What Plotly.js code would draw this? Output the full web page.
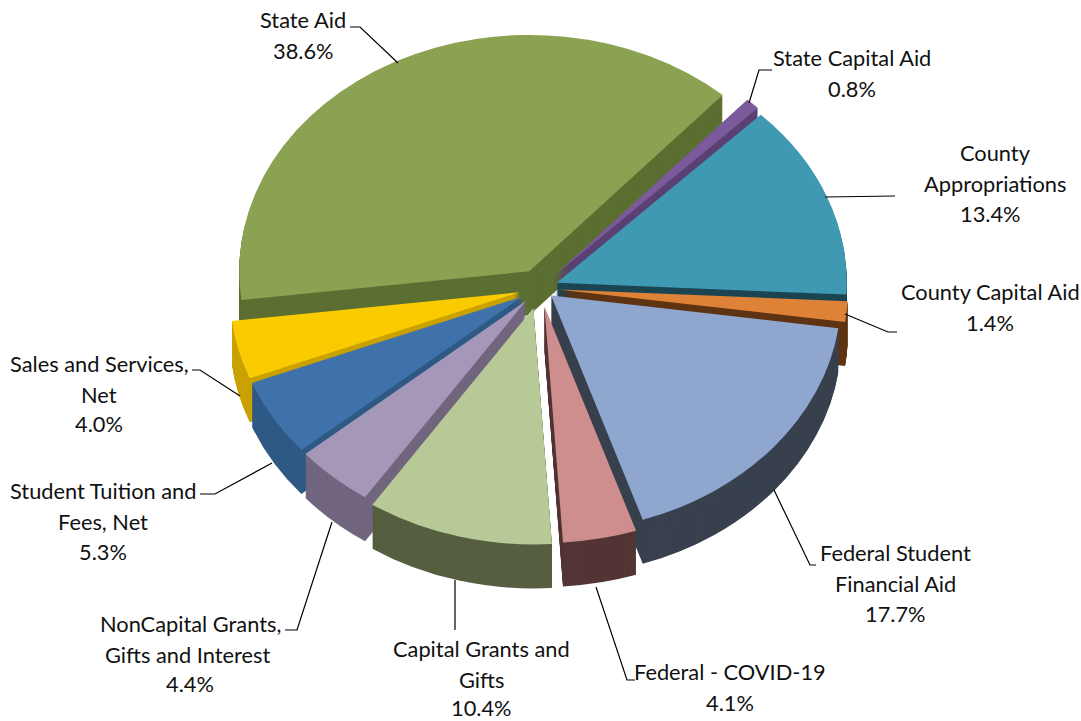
<!DOCTYPE html>
<html>
<head>
<meta charset="utf-8">
<script src="https://cdn.plot.ly/plotly-3.0.1.min.js"></script>
<style>html,body{margin:0;padding:0;background:#fff}#chart{width:1081px;height:721px}</style>
</head>
<body>
<div id="chart"></div>
<script>
const W = 1081, H = 721;
const categories = ["State Aid","State Capital Aid","County Appropriations","County Capital Aid","Federal Student Financial Aid","Federal - COVID-19","Capital Grants and Gifts","NonCapital Grants, Gifts and Interest","Student Tuition and Fees, Net","Sales and Services, Net"];
const shares = [38.6,0.8,13.4,1.4,17.7,4.1,10.4,4.4,5.3,4.0];
const explode = [0.08,0.07,0.062,0.062,0.05,0.08,0.088,0.072,0.072,0.072];
const topColors = ["#8BA252","#7A5A9A","#4099B3","#DD8236","#8FA7CF","#CE8E8E","#B7C997","#A597B8","#3F72AB","#F9CB00"];
const sideColors = ["#5C6F32","#5A4073","#1B4552","#5E3413","#39414F","#533535","#565F40","#72667F","#2F5A85","#C9A200"];
const labelLines = [
  ["State Aid",303,20],["38.6%",303,51],
  ["State Capital Aid",852,58],["0.8%",852,89],
  ["County",995,152],["Appropriations",995,183],["13.4%",990,214],
  ["County Capital Aid",990,291],["1.4%",990,322],
  ["Federal Student",895,552],["Financial Aid",895,583],["17.7%",895,613],
  ["Federal - COVID-19",730,671],["4.1%",730,702],
  ["Capital Grants and",481,648],["Gifts",481,679],["10.4%",481,707],
  ["NonCapital Grants,",190,623],["Gifts and Interest",187,654],["4.4%",190,683],
  ["Student Tuition and",103,490],["Fees, Net",103,521],["5.3%",103,551],
  ["Sales and Services,",99,363],["Net",99,394],["4.0%",99,423]
];
const leaders = [
  [[350,27],[360,27],[398,63]],
  [[749,103],[759,70],[772,70]],
  [[825,197],[895,196]],
  [[845,314],[888,332],[897,332]],
  [[774,490],[810,565],[816,565]],
  [[596,587],[627,680],[635,680]],
  [[455,580],[455,630]],
  [[332,522],[297,630],[285,630]],
  [[272,463],[215,494],[200,494]],
  [[240,396],[200,370],[192,370]]
];
const squash = 0.815, R = 290, cx = 540, cyFlat = 340, cyShown = 288, depth = 44;
const maxPull = Math.max(...explode), half = R * (1 + maxPull);
function pieLayer(offset, colors) {
  const c = cyFlat + offset;
  return {
    type: "pie", labels: categories, values: shares, pull: explode, sort: false,
    direction: "clockwise", rotation: -97, textinfo: "none", hoverinfo: "skip", showlegend: false,
    marker: {colors: colors, line: {width: 0}},
    domain: {x: [(cx - half) / W, (cx + half) / W], y: [1 - (c + half) / H, 1 - (c - half) / H]}
  };
}
const traces = [];
for (let i = depth; i >= 1; i--) traces.push(pieLayer(i / squash, sideColors));
traces.push(pieLayer(0, topColors));
const layout = {
  width: W, height: H, margin: {l: 0, r: 0, t: 0, b: 0},
  paper_bgcolor: "#fff", showlegend: false,
  shapes: leaders.map(p => ({
    type: "path", xref: "paper", yref: "paper",
    path: p.map((q, i) => (i ? "L" : "M") + (q[0] / W) + "," + (1 - q[1] / H)).join(" "),
    line: {color: "#000", width: 1.2}
  })),
  annotations: labelLines.map(l => ({
    text: l[0], x: l[1] / W, y: 1 - l[2] / H, xref: "paper", yref: "paper",
    xanchor: "center", yanchor: "middle", showarrow: false,
    font: {family: "Lato, Carlito, sans-serif", size: 21.8, color: "#111"}
  }))
};
Plotly.newPlot("chart", traces, layout, {displayModeBar: false, staticPlot: true}).then(() => {
  const g = document.querySelector("#chart .pielayer");
  g.setAttribute("transform", "translate(0," + (cyShown - squash * cyFlat) + ") scale(1," + squash + ")");
});
</script>
</body>
</html>
